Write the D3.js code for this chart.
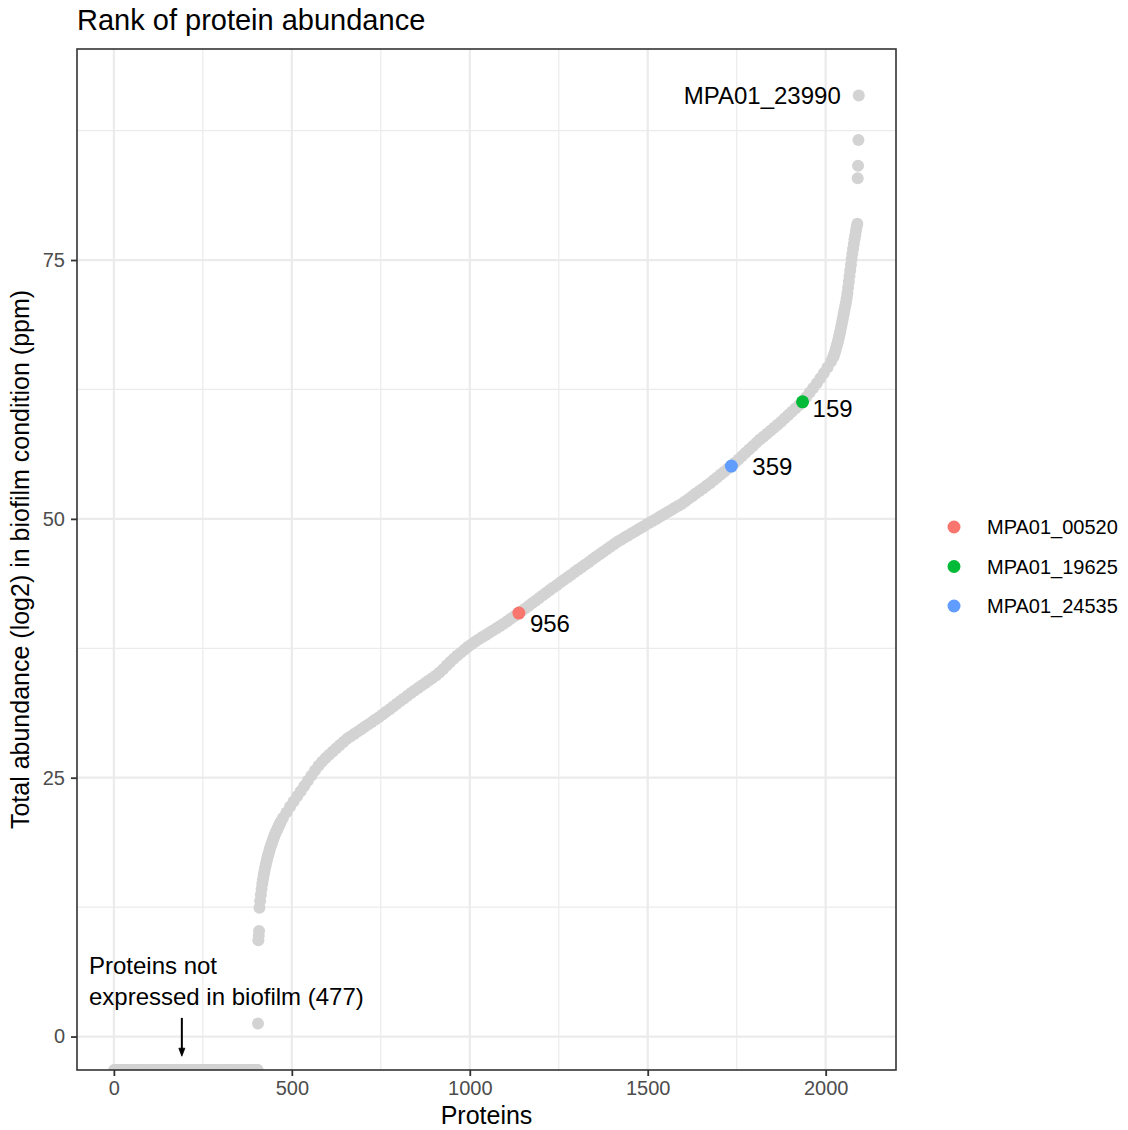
<!DOCTYPE html>
<html>
<head>
<meta charset="utf-8">
<script src="https://cdn.jsdelivr.net/npm/d3@7"></script>
<style>
  body { margin: 0; background: #fff; }
  svg { display: block; font-family: "Liberation Sans", Arial, sans-serif; }
</style>
</head>
<body>
<svg id="chart" width="1128" height="1130"></svg>
<script>
// ---- Data: proteins ranked by total abundance (log2 ppm) in the biofilm condition ----
const proteinTotal = 2093;

// Proteins with no detected abundance (log2 of zero -> -Infinity), ranks 1..notExpressedCount
const notExpressedCount = 404;

// First few detected proteins, just above the non-expressed block
const lowRanks = [405, 406, 407, 408];
const lowValues = [1.25, 9.3, 9.7, 10.2];

// Steep rise after the low-abundance block (every 2nd rank from 409)
const riseStart = 409, riseStep = 2;
const riseValues = [
  12.45, 13.1, 13.7, 14.25, 14.75, 15.2, 15.6, 15.95, 16.3, 16.6,
  16.9, 17.2, 17.45, 17.7, 17.95, 18.2, 18.4, 18.6, 18.8, 19.0,
  19.2, 19.4, 19.55, 19.7, 19.85, 20.0, 20.15, 20.3, 20.45, 20.6, 20.75
];

// Main body of the curve (every 10th rank from 475)
const bodyStart = 475, bodyStep = 10;
const bodyValues = [
  21.1, 21.65, 22.2, 22.7, 23.2, 23.7, 24.2, 24.7, 25.2, 25.7,
  26.15, 26.55, 26.9, 27.22, 27.53, 27.84, 28.15, 28.45, 28.75, 28.98,
  29.21, 29.45, 29.68, 29.92, 30.15, 30.39, 30.62, 30.85, 31.11, 31.36,
  31.62, 31.88, 32.14, 32.40, 32.65, 32.91, 33.17, 33.42, 33.66, 33.90,
  34.14, 34.38, 34.62, 34.88, 35.15, 35.48, 35.83, 36.18, 36.50, 36.80,
  37.08, 37.36, 37.64, 37.90, 38.14, 38.36, 38.58, 38.79, 39.00, 39.22,
  39.43, 39.65, 39.88, 40.12, 40.36, 40.59, 40.83, 41.08, 41.33, 41.59,
  41.85, 42.10, 42.36, 42.61, 42.87, 43.12, 43.37, 43.62, 43.87, 44.11,
  44.36, 44.61, 44.86, 45.10, 45.35, 45.60, 45.84, 46.09, 46.33, 46.58,
  46.82, 47.06, 47.31, 47.55, 47.78, 47.99, 48.19, 48.40, 48.60, 48.80,
  49.01, 49.21, 49.42, 49.62, 49.82, 50.02, 50.23, 50.43, 50.63, 50.83,
  51.04, 51.24, 51.44, 51.68, 51.93, 52.18, 52.44, 52.69, 52.94, 53.20,
  53.45, 53.73, 54.00, 54.28, 54.55, 54.83, 55.10, 55.42, 55.74, 56.06,
  56.38, 56.70, 57.02, 57.34, 57.66, 57.94, 58.23, 58.51, 58.80, 59.09,
  59.39, 59.71, 60.03, 60.35, 60.66, 60.98, 61.30, 61.75, 62.20, 62.65,
  63.10, 63.58, 64.08, 64.62, 65.20
];

// Upper tail of the curve (every 2nd rank from 2021)
const tailStart = 2021, tailStep = 2;
const tailValues = [
  65.6, 65.8, 66.0, 66.22, 66.45, 66.7, 66.95, 67.22, 67.5, 67.8,
  68.12, 68.45, 68.8, 69.15, 69.5, 69.85, 70.2, 70.55, 70.9, 71.3,
  71.8, 72.35, 72.9, 73.45, 74.0, 74.55, 75.1, 75.6, 76.1, 76.55,
  77.0, 77.4, 77.8, 78.2, 78.5
];

// Most abundant proteins
const topRanks = [2090, 2091, 2092, 2093];
const topValues = [82.9, 84.1, 86.6, 90.9];
const topProtein = "MPA01_23990";

// Highlighted proteins
const highlightIds = ["MPA01_00520", "MPA01_19625", "MPA01_24535"];
const highlightRanks = [1138, 1935, 1735];
const highlightValues = [40.9, 61.3, 55.1];
const highlightColors = ["#F8766D", "#00BA38", "#619CFF"];

// Axis ticks
const xTicks = [0, 500, 1000, 1500, 2000];
const xMinorTicks = [250, 750, 1250, 1750];
const yTicks = [0, 25, 50, 75];
const yMinorTicks = [12.5, 37.5, 62.5, 87.5];

// Annotation for the non-expressed block
const notExpressedNote = ["Proteins not", "expressed in biofilm (477)"];
const arrowRank = 191, arrowFrom = 1.8, arrowTo = -1.9;

// ---- Assemble point records ----
const points = [];
for (let r = 1; r <= notExpressedCount; r++) points.push({ rank: r, value: -Infinity });
lowRanks.forEach((r, i) => points.push({ rank: r, value: lowValues[i] }));
riseValues.forEach((v, i) => points.push({ rank: riseStart + i * riseStep, value: v }));
bodyValues.forEach((v, i) => points.push({ rank: bodyStart + i * bodyStep, value: v }));
tailValues.forEach((v, i) => points.push({ rank: tailStart + i * tailStep, value: v }));
topRanks.forEach((r, i) => points.push({ rank: r, value: topValues[i] }));

const highlights = highlightIds.map((id, i) => ({
  id, rank: highlightRanks[i], value: highlightValues[i], color: highlightColors[i],
  label: String(proteinTotal - highlightRanks[i] + 1)
}));

// ---- Layout ----
const panel = { left: 77, top: 49, right: 896, bottom: 1070 };
const svg = d3.select("#chart");

const finite = points.filter(d => isFinite(d.value)).map(d => d.value);
const yMin = d3.min(finite), yMax = d3.max(finite);
const ySpan = yMax - yMin;
const xSpan = proteinTotal - 1;

const x = d3.scaleLinear()
  .domain([1 - 0.05 * xSpan, proteinTotal + 0.05 * xSpan])
  .range([panel.left, panel.right]);
const y = d3.scaleLinear()
  .domain([yMin - 0.05 * ySpan, yMax + 0.05 * ySpan])
  .range([panel.bottom, panel.top]);

// y position: infinite values sit on the panel edge
const yPos = v => v === -Infinity ? panel.bottom : (v === Infinity ? panel.top : y(v));

svg.append("rect").attr("width", 1128).attr("height", 1130).attr("fill", "#fff");

svg.append("defs").append("clipPath").attr("id", "panel-clip")
  .append("rect")
  .attr("x", panel.left).attr("y", panel.top)
  .attr("width", panel.right - panel.left).attr("height", panel.bottom - panel.top);

// Grid
const grid = svg.append("g");
grid.selectAll(".xminor").data(xMinorTicks).join("line")
  .attr("x1", d => x(d)).attr("x2", d => x(d))
  .attr("y1", panel.top).attr("y2", panel.bottom)
  .attr("stroke", "#EBEBEB").attr("stroke-width", 1.2);
grid.selectAll(".yminor").data(yMinorTicks).join("line")
  .attr("y1", d => y(d)).attr("y2", d => y(d))
  .attr("x1", panel.left).attr("x2", panel.right)
  .attr("stroke", "#EBEBEB").attr("stroke-width", 1.2);
grid.selectAll(".xmajor").data(xTicks).join("line")
  .attr("x1", d => x(d)).attr("x2", d => x(d))
  .attr("y1", panel.top).attr("y2", panel.bottom)
  .attr("stroke", "#EBEBEB").attr("stroke-width", 2.2);
grid.selectAll(".ymajor").data(yTicks).join("line")
  .attr("y1", d => y(d)).attr("y2", d => y(d))
  .attr("x1", panel.left).attr("x2", panel.right)
  .attr("stroke", "#EBEBEB").attr("stroke-width", 2.2);

// Points
const plot = svg.append("g").attr("clip-path", "url(#panel-clip)");
plot.append("g").selectAll("circle").data(points).join("circle")
  .attr("cx", d => x(d.rank)).attr("cy", d => yPos(d.value))
  .attr("r", 6).attr("fill", "#D3D3D3");
plot.append("g").selectAll("circle").data(highlights).join("circle")
  .attr("cx", d => x(d.rank)).attr("cy", d => y(d.value))
  .attr("r", 6.5).attr("fill", d => d.color);

// Rank labels next to highlighted proteins
const labelOffset = { "MPA01_00520": [11, 18.5], "MPA01_19625": [10, 15], "MPA01_24535": [21, 8.5] };
svg.append("g").selectAll("text").data(highlights).join("text")
  .attr("x", d => x(d.rank) + labelOffset[d.id][0])
  .attr("y", d => y(d.value) + labelOffset[d.id][1])
  .attr("font-size", 24).attr("fill", "#000")
  .text(d => d.label);

// Label for the most abundant protein
const topIdx = topValues.indexOf(d3.max(topValues));
svg.append("text")
  .attr("x", x(topRanks[topIdx]) - 18).attr("y", y(topValues[topIdx]) + 8.5)
  .attr("text-anchor", "end").attr("font-size", 24).attr("fill", "#000")
  .text(topProtein);

// Annotation + arrow for the non-expressed block
const note = svg.append("text").attr("font-size", 24).attr("fill", "#000");
notExpressedNote.forEach((line, i) => {
  note.append("tspan").attr("x", x(-70)).attr("y", 974 + i * 31).text(line);
});
const ax = x(arrowRank), ay1 = y(arrowFrom), ay2 = y(arrowTo);
svg.append("line").attr("x1", ax).attr("x2", ax).attr("y1", ay1).attr("y2", ay2 - 6)
  .attr("stroke", "#000").attr("stroke-width", 2);
svg.append("path")
  .attr("d", `M${ax - 3},${ay2 - 8} L${ax + 3},${ay2 - 8} L${ax},${ay2} Z`)
  .attr("fill", "#000").attr("stroke", "#000").attr("stroke-width", 0.8);

// Panel border
svg.append("rect")
  .attr("x", panel.left).attr("y", panel.top)
  .attr("width", panel.right - panel.left).attr("height", panel.bottom - panel.top)
  .attr("fill", "none").attr("stroke", "#333333").attr("stroke-width", 1.6);

// Axes
const xAxis = svg.append("g").attr("transform", `translate(0,${panel.bottom})`)
  .call(d3.axisBottom(x).tickValues(xTicks).tickSize(6).tickPadding(5).tickFormat(d3.format("d")));
const yAxis = svg.append("g").attr("transform", `translate(${panel.left},0)`)
  .call(d3.axisLeft(y).tickValues(yTicks).tickSize(6).tickPadding(6).tickFormat(d3.format("d")));
[xAxis, yAxis].forEach(g => {
  g.select(".domain").remove();
  g.selectAll(".tick line").attr("stroke", "#333333").attr("stroke-width", 1.8);
  g.selectAll(".tick text").attr("fill", "#4D4D4D").attr("font-size", 20)
    .attr("font-family", "Liberation Sans, Arial, sans-serif");
});

// Titles
svg.append("text").attr("x", panel.left).attr("y", 30)
  .attr("font-size", 29).attr("fill", "#000").text("Rank of protein abundance");
svg.append("text").attr("x", (panel.left + panel.right) / 2).attr("y", 1124)
  .attr("text-anchor", "middle").attr("font-size", 25).attr("fill", "#000").text("Proteins");
svg.append("text")
  .attr("transform", `translate(29,${(panel.top + panel.bottom) / 2}) rotate(-90)`)
  .attr("text-anchor", "middle").attr("font-size", 25).attr("fill", "#000")
  .text("Total abundance (log2) in biofilm condition (ppm)");

// Legend
const legend = svg.append("g").attr("transform", "translate(954,527)");
const items = legend.selectAll("g").data(highlights.slice().sort((a, b) => d3.ascending(a.id, b.id)))
  .join("g").attr("transform", (d, i) => `translate(0,${i * 39.5})`);
items.append("circle").attr("r", 6.5).attr("fill", d => d.color);
items.append("text").attr("x", 33).attr("dy", "0.35em")
  .attr("font-size", 20).attr("fill", "#000").text(d => d.id);
</script>
</body>
</html>
